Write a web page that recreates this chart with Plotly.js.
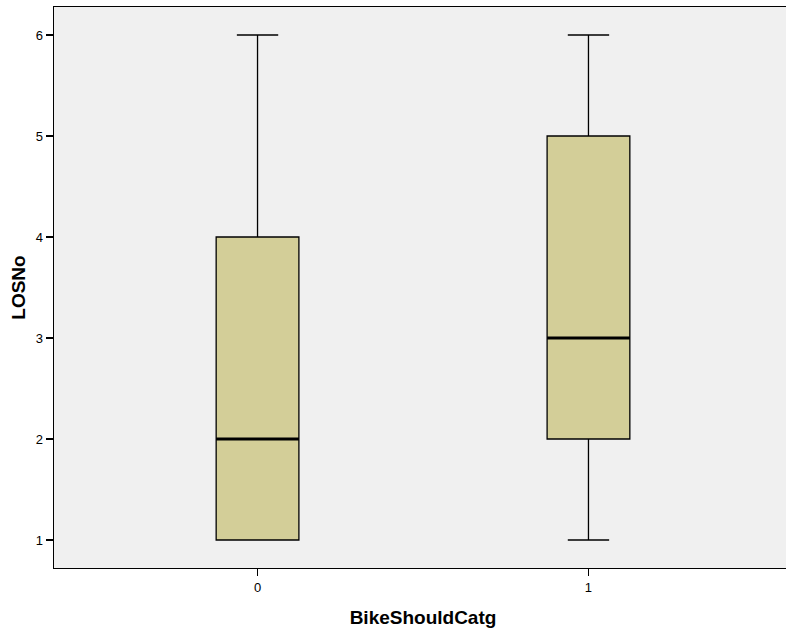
<!DOCTYPE html>
<html><head><meta charset="utf-8">
<script src="https://cdn.plot.ly/plotly-3.0.1.min.js"></script>
<style>html,body{margin:0;padding:0;overflow:hidden;background:#fff}</style>
</head><body><div id="chart"></div>
<script>
const categories = [0, 1];
const tickLabels = ["0", "1"];
const minVals = [1, 1];
const q1Vals = [1, 2];
const medianVals = [2, 3];
const q3Vals = [4, 5];
const maxVals = [6, 6];

const boxWidth = 0.25;
const traces = [{
  type: 'box',
  x: categories,
  lowerfence: minVals,
  q1: q1Vals,
  median: medianVals,
  q3: q3Vals,
  upperfence: maxVals,
  width: boxWidth,
  whiskerwidth: 0.5,
  fillcolor: '#D3CE98',
  line: {color: '#000000', width: 1.3},
  boxpoints: false,
  hoverinfo: 'none',
  showlegend: false
}];
categories.forEach((c, i) => {
  traces.push({
    type: 'scatter', mode: 'lines',
    x: [c - boxWidth / 2, c + boxWidth / 2],
    y: [medianVals[i], medianVals[i]],
    line: {color: '#000000', width: 3},
    hoverinfo: 'none', showlegend: false
  });
});

const layout = {
  width: 820, height: 635,
  margin: {l: 54, r: 28, t: 7, b: 67},
  paper_bgcolor: '#ffffff',
  plot_bgcolor: '#F0F0F0',
  font: {family: 'Liberation Sans, Arial, sans-serif', color: '#000', size: 13},
  xaxis: {
    range: [-0.615, 1.615],
    tickvals: categories, ticktext: tickLabels,
    ticks: 'outside', ticklen: 7, tickcolor: '#000', tickwidth: 1.2,
    showline: true, linecolor: '#000', linewidth: 1.3, mirror: true,
    showgrid: false, zeroline: false,
    title: {text: '<b>BikeShouldCatg</b>', font: {size: 19}, standoff: 16}
  },
  yaxis: {
    range: [0.723, 6.277],
    tickvals: [1, 2, 3, 4, 5, 6],
    ticks: 'outside', ticklen: 7, tickcolor: '#000', tickwidth: 1.2,
    showline: true, linecolor: '#000', linewidth: 1.3, mirror: false,
    showgrid: false, zeroline: false,
    title: {text: '<b>LOSNo</b>', font: {size: 19}, standoff: 5}
  }
};
Plotly.newPlot('chart', traces, layout, {displayModeBar: false, staticPlot: true});
</script></body></html>
